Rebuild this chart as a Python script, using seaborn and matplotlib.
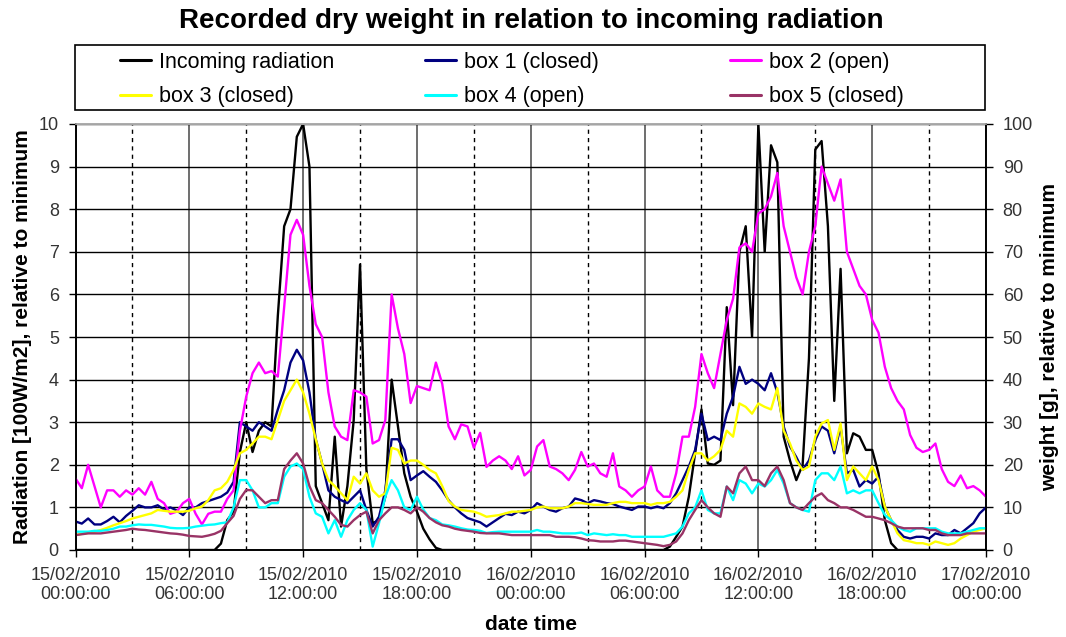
import matplotlib
matplotlib.use("Agg")
import matplotlib.pyplot as plt
import matplotlib.dates as mdates
from matplotlib.lines import Line2D
from matplotlib.patches import Rectangle
import pandas as pd
import seaborn as sns

# 20-minute samples, 15/02/2010 00:00 -> 17/02/2010 00:00
times = pd.date_range("2010-02-15 00:00", "2010-02-17 00:00", freq="20min")

# incoming radiation [100 W/m2], relative to minimum
radiation = [
    0, 0, 0, 0, 0, 0, 0, 0, 0, 0, 0, 0, 0, 0, 0, 0, 0, 0, 0, 0, 0, 0,
    0.0, 0.15, 0.7, 0.9, 2.3, 3.0, 2.3, 2.8, 3.0, 2.9,
    5.5, 7.6, 8.0, 9.7, 10.0, 9.0, 1.5, 1.1, 0.7, 2.66,
    0.55, 1.5, 3.05, 6.7, 1.9, 0.63, 0.7, 1.25, 4.0, 2.9,
    1.8, 1.25, 0.9, 0.5, 0.25, 0.05,
    0, 0, 0, 0, 0, 0, 0, 0, 0, 0, 0, 0, 0, 0, 0, 0, 0, 0,
    0, 0, 0, 0, 0, 0, 0, 0, 0, 0, 0, 0, 0, 0, 0, 0, 0, 0,
    0.08, 0.31, 0.55, 1.25, 2.27, 3.3, 2.03, 2.0, 2.1, 5.7,
    3.4, 7.0, 7.6, 5.0, 10.0, 7.0, 9.5, 9.1, 2.66, 2.1,
    1.64, 2.0, 4.5, 9.4, 9.6, 7.6, 3.5, 6.6, 2.27, 2.74,
    2.66, 2.35, 2.35, 1.8, 0.7, 0.16,
    0, 0, 0, 0, 0, 0, 0, 0, 0, 0, 0, 0, 0, 0, 0,
]

# recorded weights [g], relative to minimum
box1 = [
    6.7, 6.2, 7.4, 6.0, 6.0, 6.8, 7.8, 6.5, 8.0, 9.2, 10.5, 10.0, 10.0, 10.5,
    9.5, 10.0, 9.3, 8.2, 10.0, 10.0, 11.0, 11.5, 12.0, 12.5, 13.5, 16.0, 30.0, 29.0,
    28.0, 30.0, 29.0, 28.0, 33.0, 37.5, 44.0, 47.0, 44.5, 37.0, 26.0, 20.3, 14.0,
    12.5, 11.7, 11.0, 12.5, 14.0, 9.4, 5.5, 7.8, 14.0, 26.0, 26.0, 23.5, 16.4,
    17.5, 18.5, 17.2, 16.0, 14.0, 11.7, 10.0, 8.6, 7.5, 7.0, 6.5, 5.5, 6.5, 7.5,
    8.5, 8.2, 9.0, 8.6,
    9.4, 11.0, 10.2, 9.4, 9.0, 9.8, 10.2, 12.1, 11.7, 11.0, 11.7, 11.4, 11.0,
    10.8, 10.2, 9.8, 9.4, 10.2, 10.2, 9.8, 10.2, 9.8,
    11.0, 13.3, 16.4, 19.6, 23.5, 32.0, 25.8, 26.6, 25.8, 32.0, 36.0, 43.0, 39.0,
    40.0, 39.0, 37.5, 41.5, 37.0, 29.0, 24.3, 21.8, 18.8,
    21.0, 25.8, 29.0, 28.0, 22.7, 29.0, 18.0, 18.8, 14.9, 16.4, 15.6, 17.2, 10.2,
    7.0, 4.7, 3.1, 2.7, 3.1, 3.1, 2.7, 3.9, 3.5, 3.5, 4.7, 3.9, 5.1, 6.3, 8.6, 10.0,
]
box2 = [
    16.8, 14.5, 20.0, 15.0, 10.0, 14.0, 14.0, 12.5, 14.0, 13.0, 14.5, 13.0, 16.0,
    12.0, 11.0, 8.5, 9.0, 11.0, 12.0, 8.5, 6.0, 8.5, 9.0, 9.0, 12.0, 14.0, 28.0, 36.0,
    41.5, 44.0, 41.5, 42.0, 40.7, 57.0, 74.0, 77.5, 74.0, 62.0, 53.0, 50.0, 37.0,
    29.0, 26.6, 25.8, 37.5, 37.0, 36.0, 25.0, 25.8, 30.5, 60.0, 52.0, 46.0, 34.5,
    38.5, 38.0, 37.5, 44.0, 39.0, 29.0, 26.0, 29.5, 29.0, 24.0, 27.5, 19.5, 21.0,
    22.0, 21.0, 19.0, 22.0, 17.5,
    18.8, 24.3, 25.8, 19.6, 19.0, 18.0, 16.4, 18.8, 23.0, 19.6, 20.3, 18.0, 17.2,
    22.7, 14.9, 14.0, 12.5, 14.0, 14.9, 19.6, 14.0, 12.5,
    12.5, 18.0, 26.6, 26.6, 33.6, 46.0, 41.5, 38.0, 46.0, 54.0, 59.0, 71.0, 72.0,
    70.0, 79.0, 80.0, 83.0, 88.5, 76.0, 70.0, 64.0, 60.0,
    70.0, 76.0, 90.0, 86.0, 82.0, 87.0, 70.0, 66.0, 62.0, 60.0, 54.0, 51.0, 43.0,
    38.0, 35.0, 33.0, 27.0, 24.0, 23.0, 23.5, 25.0, 19.0, 16.0, 15.0, 17.5, 14.5,
    15.0, 14.0, 12.5,
]
box3 = [
    3.5, 3.8, 4.0, 4.3, 4.7, 5.2, 5.8, 6.3, 6.8, 7.4, 7.8, 8.2, 8.6, 9.4, 9.2,
    9.0, 9.0, 9.0, 9.2, 9.8, 10.2, 11.7, 14.0, 14.5, 16.0, 18.8, 22.7, 23.5,
    25.0, 26.6, 26.6, 26.0, 30.5, 35.0, 37.5, 40.0, 37.0, 32.0, 26.0, 20.3, 16.4,
    15.0, 13.3, 11.7, 17.2, 15.6, 18.0, 14.0, 12.5, 13.3, 24.0, 23.5, 20.3, 21.0,
    21.0, 20.0, 18.8, 18.0, 15.0, 11.5, 10.2, 9.4, 9.2, 9.0, 8.5, 7.8, 8.0, 8.2,
    8.6, 9.0, 9.0, 9.2,
    9.4, 10.0, 10.2, 9.8, 9.8, 9.8, 10.2, 11.0, 11.0, 10.8, 10.6, 10.6, 10.6,
    11.0, 11.3, 11.3, 11.0, 11.0, 11.0, 10.6, 11.0, 11.0,
    11.3, 12.5, 14.0, 18.8, 22.7, 22.7, 21.0, 22.0, 23.5, 28.0, 26.6, 34.4, 33.6,
    32.0, 34.4, 33.6, 33.0, 38.0, 28.0, 25.0, 21.0, 18.8,
    19.6, 26.6, 29.7, 30.5, 23.5, 29.7, 16.4, 19.6, 18.0, 16.4, 19.6, 16.4, 10.2,
    7.0, 3.9, 2.3, 2.0, 1.6, 1.6, 1.2, 2.0, 1.6, 1.2, 1.6, 2.7, 3.5, 4.3, 4.7, 5.1,
]
box4 = [
    4.3, 4.3, 4.3, 4.5, 4.5, 4.7, 5.0, 5.5, 5.5, 5.8, 6.0, 5.9, 5.9, 5.7, 5.5,
    5.2, 5.1, 5.1, 5.2, 5.5, 5.7, 5.9, 6.0, 6.3, 6.5, 10.0, 16.4, 16.4,
    14.0, 10.0, 10.0, 11.0, 11.0, 17.2, 19.6, 20.3, 19.0, 12.5, 8.6, 7.8, 3.9,
    7.0, 3.1, 7.0, 9.4, 11.0, 9.4, 0.8, 6.3, 12.5, 16.4, 14.0, 10.0, 9.4,
    12.5, 9.5, 7.5, 7.0, 6.0, 5.8, 5.5, 5.1, 4.8, 4.7, 4.5, 4.0, 4.2, 4.3, 4.3,
    4.3, 4.3, 4.3,
    4.3, 4.7, 4.3, 4.3, 4.1, 3.9, 3.9, 3.9, 4.1, 3.5, 3.9, 3.7, 3.5, 3.7, 3.5,
    3.5, 3.1, 3.1, 3.1, 3.1, 3.1, 3.1,
    3.5, 3.9, 5.5, 8.6, 10.0, 14.0, 9.4, 8.6, 8.6, 14.9, 11.7, 16.4, 15.6, 13.3,
    15.6, 14.9, 16.4, 18.8, 15.6, 11.0, 10.0, 9.4,
    9.0, 16.4, 18.0, 18.0, 16.4, 19.6, 13.3, 14.0, 13.3, 14.0, 14.0, 11.0, 8.2,
    7.0, 5.5, 4.7, 4.3, 5.1, 5.1, 5.1, 5.1, 4.3, 3.9, 3.9, 3.9, 4.3, 4.7, 5.1, 5.1,
]
box5 = [
    3.5, 3.7, 3.9, 3.9, 3.9, 4.1, 4.3, 4.5, 4.7, 5.0, 4.8, 4.7, 4.5, 4.3, 4.1,
    3.9, 3.8, 3.6, 3.3, 3.2, 3.1, 3.4, 3.8, 4.5, 6.3, 8.0, 12.0, 14.1,
    14.0, 12.5, 11.0, 11.7, 11.7, 19.0, 21.0, 22.7, 20.3, 15.0, 11.7, 11.0, 9.4,
    7.8, 5.9, 5.5, 7.0, 8.2, 9.0, 3.9, 7.0, 8.6, 10.0, 10.0, 9.4, 8.6,
    10.0, 9.0, 7.5, 6.5, 5.8, 5.5, 5.0, 4.7, 4.5, 4.3, 4.0, 3.9, 3.9, 3.9, 3.7,
    3.5, 3.5, 3.5,
    3.5, 3.5, 3.5, 3.5, 3.1, 3.1, 3.1, 3.0, 2.7, 2.3, 2.2, 2.0, 2.0, 2.0, 2.2,
    2.2, 2.0, 1.8, 1.6, 1.4, 1.2, 0.9,
    1.2, 2.0, 3.9, 7.0, 9.4, 11.7, 10.0, 8.6, 7.8, 14.9, 13.3, 18.0, 19.6, 16.4,
    16.4, 15.0, 18.0, 19.6, 16.4, 11.0, 10.0, 9.4,
    11.0, 12.5, 13.3, 11.7, 11.0, 10.0, 10.0, 9.4, 8.6, 7.8, 7.8, 7.4, 7.0, 6.3,
    5.5, 5.1, 5.1, 5.1, 5.1, 4.7, 4.7, 3.9, 3.5, 3.5, 3.5, 3.9, 3.9, 3.9, 3.9,
]

series_names = ["box 1 (closed)", "box 2 (open)", "box 3 (closed)", "box 4 (open)", "box 5 (closed)"]
series_colors = ["#000080", "#FF00FF", "#FFFF00", "#00FFFF", "#993366"]

df = pd.DataFrame({"time": times, "radiation": radiation, "box1": box1, "box2": box2,
                   "box3": box3, "box4": box4, "box5": box5})

sns.set_theme(style="ticks")
plt.rcParams["font.family"] = ["Liberation Sans", "DejaVu Sans"]

fig = plt.figure(figsize=(10.66, 6.37), dpi=100)
ax = fig.add_axes([75.5 / 1066, 1 - 550 / 637, 910.5 / 1066, 426 / 637])
ax2 = ax.twinx()

LW = 1.7
sns.lineplot(data=df, x="time", y="radiation", ax=ax, color="black", lw=LW, legend=False)
for col, c in zip(["box1", "box2", "box3", "box4", "box5"], series_colors):
    sns.lineplot(data=df, x="time", y=col, ax=ax2, color=c, lw=LW, legend=False)

# axes ranges and ticks
ax.set_xlim(times[0], times[-1])
ax.set_ylim(0, 10)
ax.set_yticks(range(0, 11))
ax2.set_ylim(0, 100)
ax2.set_yticks(range(0, 101, 10))
ax.xaxis.set_major_locator(mdates.HourLocator(byhour=[0, 6, 12, 18]))
ax.xaxis.set_major_formatter(mdates.DateFormatter("%d/%m/%Y\n%H:%M:%S"))
ax.xaxis.set_minor_locator(mdates.HourLocator(byhour=[3, 9, 15, 21]))

ax.set_axisbelow(True)
ax.yaxis.grid(True, color="black", lw=1.0)
ax.xaxis.grid(True, which="major", color="#555555", lw=1.2)
ax.xaxis.grid(True, which="minor", color="black", lw=1.0, ls=(0, (3, 3)))

tick_kw = dict(direction="out", length=5, width=1, color="black", labelsize=13,
               labelcolor="#333333", pad=7)
ax.tick_params(axis="both", which="major", **tick_kw)
ax.tick_params(axis="x", which="minor", length=0)
ax2.tick_params(axis="y", which="major", **tick_kw)

for a in (ax, ax2):
    a.spines["top"].set_color("#aaaaaa")
    a.spines["top"].set_linewidth(1.2)
    for s in ("left", "right", "bottom"):
        a.spines[s].set_color("black")
        a.spines[s].set_linewidth(1.2)

label_kw = dict(fontsize=15, fontweight="bold", color="black")
ax.set_xlabel("date time", **label_kw)
ax.xaxis.set_label_coords(0.5, -0.152)
ax.set_ylabel("Radiation [100W/m2], relative to minimum", **label_kw)
ax.yaxis.set_label_coords(-0.048, 0.5)
ax2.set_ylabel("weight [g], relative to minimum", **label_kw)
ax2.yaxis.set_label_coords(1.059, 0.5)

fig.text(0.4986, 1 - 21 / 637, "Recorded dry weight in relation to incoming radiation",
         ha="center", va="center", fontsize=20, fontweight="bold", color="black")

# legend: framed box with three equally spaced columns
fig.add_artist(Rectangle((75 / 1066, 1 - 110 / 637), 910 / 1066, 65 / 637,
                         transform=fig.transFigure, fill=False, edgecolor="black", lw=1.2))
handles = [Line2D([], [], color="black", lw=2.2)] + [Line2D([], [], color=c, lw=2.2) for c in series_colors]
labels = ["Incoming radiation"] + series_names
columns = [(0, 3), (1, 4), (2, 5)]
for k, (i, j) in enumerate(columns):
    leg = fig.legend([handles[i], handles[j]], [labels[i], labels[j]], loc="upper left",
                     bbox_to_anchor=((120 + 305 * k) / 1066, 1 - 52 / 637), frameon=False,
                     fontsize=15.5, handlelength=1.45, handletextpad=0.35, borderpad=0,
                     borderaxespad=0, labelspacing=0.62)
    for t in leg.get_texts():
        t.set_color("black")

fig.savefig("out.png", dpi=100)
